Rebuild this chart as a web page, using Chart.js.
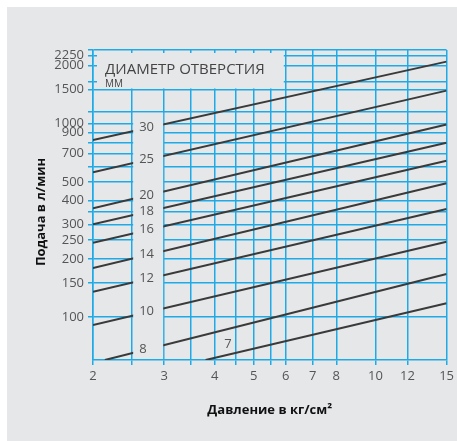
<!DOCTYPE html>
<html>
<head>
<meta charset="utf-8">
<script src="https://cdn.jsdelivr.net/npm/chart.js@4.4.1/dist/chart.umd.min.js"></script>
<style>
  html, body { margin: 0; padding: 0; background: #fff; }
  #wrap { width: 457px; height: 441px; }
</style>
</head>
<body>
<div id="wrap"><canvas id="chart" width="457" height="441"></canvas></div>
<script>
// nozzle diameter (mm) and flow (l/min) at both ends of each line
var diameters = [30, 25, 20, 18, 16, 14, 12, 10, 8, 7];
var startPressure = [2, 2, 2, 2, 2, 2, 2, 2, 2.14, 3.8];
var startFlow = [822, 560, 365, 302, 242, 179, 135, 91, 60, 60];
var endPressure = [15, 15, 15, 15, 15, 15, 15, 15, 15, 15];
var endFlow = [2090, 1480, 990, 796, 643, 491, 362, 245, 167, 118];

var xTicks = [2, 2.5, 3, 3.5, 4, 4.5, 5, 5.5, 6, 7, 8, 10, 12, 15];
var xLabels = [2, 3, 4, 5, 6, 7, 8, 10, 12, 15];
var yTicks = [2400, 2250, 2000, 1650, 1500, 1150, 1000, 900, 800, 700, 600, 500, 400, 350, 300, 250, 200, 150, 100];
var yLabels = [2250, 2000, 1500, 1000, 900, 700, 500, 400, 300, 250, 200, 150, 100];

var bg = '#e6e7e9';
var blue = '#1eaae6';
var lineColor = '#3a3a3a';

var datasets = diameters.map(function (d, i) {
  return {
    label: d + ' мм',
    data: [{ x: startPressure[i], y: startFlow[i] }, { x: endPressure[i], y: endFlow[i] }],
    borderColor: lineColor,
    borderWidth: 2,
    pointRadius: 0,
    fill: false
  };
});

// flow on line i at pressure p (straight line in log-log)
function flowAt(i, p) {
  var t = Math.log(p / startPressure[i]) / Math.log(endPressure[i] / startPressure[i]);
  return Math.exp(Math.log(startFlow[i]) + t * (Math.log(endFlow[i]) - Math.log(startFlow[i])));
}

var overlay = {
  id: 'overlay',
  beforeDraw: function (chart) {
    var ctx = chart.ctx;
    ctx.save();
    ctx.fillStyle = '#ffffff';
    ctx.fillRect(0, 0, chart.width, chart.height);
    ctx.fillStyle = bg;
    ctx.fillRect(7, 7, chart.width - 7, chart.height - 7);
    ctx.restore();
  },
  afterDatasetsDraw: function (chart) {
    var ctx = chart.ctx, xs = chart.scales.x, ys = chart.scales.y, a = chart.chartArea;
    ctx.save();
    ctx.fillStyle = bg;
    // strip that holds the diameter labels
    var sx0 = xs.getPixelForValue(2.5) + 1, sx1 = xs.getPixelForValue(3) - 1;
    var sy0 = ys.getPixelForValue(1150) + 1;
    ctx.fillRect(sx0, sy0, sx1 - sx0, a.bottom - 1 - sy0);
    // title box
    var bx0 = a.left + 4, bx1 = xs.getPixelForValue(6) - 2;
    var by0 = a.top + 3, by1 = ys.getPixelForValue(1500) - 1;
    ctx.fillRect(bx0, by0, bx1 - bx0, by1 - by0);

    ctx.fillStyle = '#555';
    ctx.font = '13px "Open Sans"';
    ctx.textBaseline = 'middle';
    ctx.textAlign = 'left';
    diameters.forEach(function (d, i) {
      if (i < 9) {
        ctx.fillText(String(d), sx0 + 6, ys.getPixelForValue(flowAt(i, 2.5)) - 4);
      } else {
        ctx.fillText(String(d), xs.getPixelForValue(4.2) + 1, ys.getPixelForValue(flowAt(i, 4.2)) - 12);
      }
    });

    ctx.fillStyle = '#444';
    ctx.textBaseline = 'alphabetic';
    ctx.font = '15px "Open Sans"';
    ctx.fillText('ДИАМЕТР ОТВЕРСТИЯ', 105, 74);
    ctx.font = '10px "Open Sans"';
    ctx.fillText('ММ', 105, 87);

    // axis titles
    ctx.fillStyle = '#111';
    ctx.font = 'bold 13px "Open Sans"';
    ctx.textAlign = 'center';
    ctx.textBaseline = 'middle';
    ctx.fillText('Давление в кг/см²', (a.left + a.right) / 2, 410);
    ctx.translate(41, 212);
    ctx.rotate(-Math.PI / 2);
    ctx.fillText('Подача в л/мин', 0, 0);
    ctx.restore();
  }
};

new Chart(document.getElementById('chart'), {
  type: 'line',
  data: { datasets: datasets },
  plugins: [overlay],
  options: {
    responsive: false,
    animation: false,
    layout: { padding: { left: 7, top: 50, right: 10, bottom: 0 } },
    plugins: { legend: { display: false }, tooltip: { enabled: false } },
    scales: {
      x: {
        type: 'logarithmic',
        min: 2,
        max: 15,
        afterBuildTicks: function (s) { s.ticks = xTicks.map(function (v) { return { value: v }; }); },
        afterFit: function (s) { s.height = 81; },
        ticks: {
          autoSkip: false,
          maxRotation: 0,
          padding: 3,
          color: '#555',
          font: { family: 'Open Sans', size: 13 },
          callback: function (v) { return xLabels.indexOf(v) >= 0 ? String(v) : ''; }
        },
        grid: { color: blue, lineWidth: 1.5, tickLength: 5 },
        border: { color: blue, width: 1.5 }
      },
      y: {
        type: 'logarithmic',
        min: 60,
        max: 2400,
        afterBuildTicks: function (s) { s.ticks = yTicks.map(function (v) { return { value: v }; }); },
        afterFit: function (s) { s.width = 86; },
        ticks: {
          autoSkip: false,
          padding: 4,
          color: '#555',
          font: { family: 'Open Sans', size: 13 },
          callback: function (v) { return yLabels.indexOf(v) >= 0 ? String(v) : ''; }
        },
        grid: { color: blue, lineWidth: 1.5, tickLength: 5 },
        border: { color: blue, width: 1.5 }
      }
    }
  }
});
</script>
</body>
</html>
